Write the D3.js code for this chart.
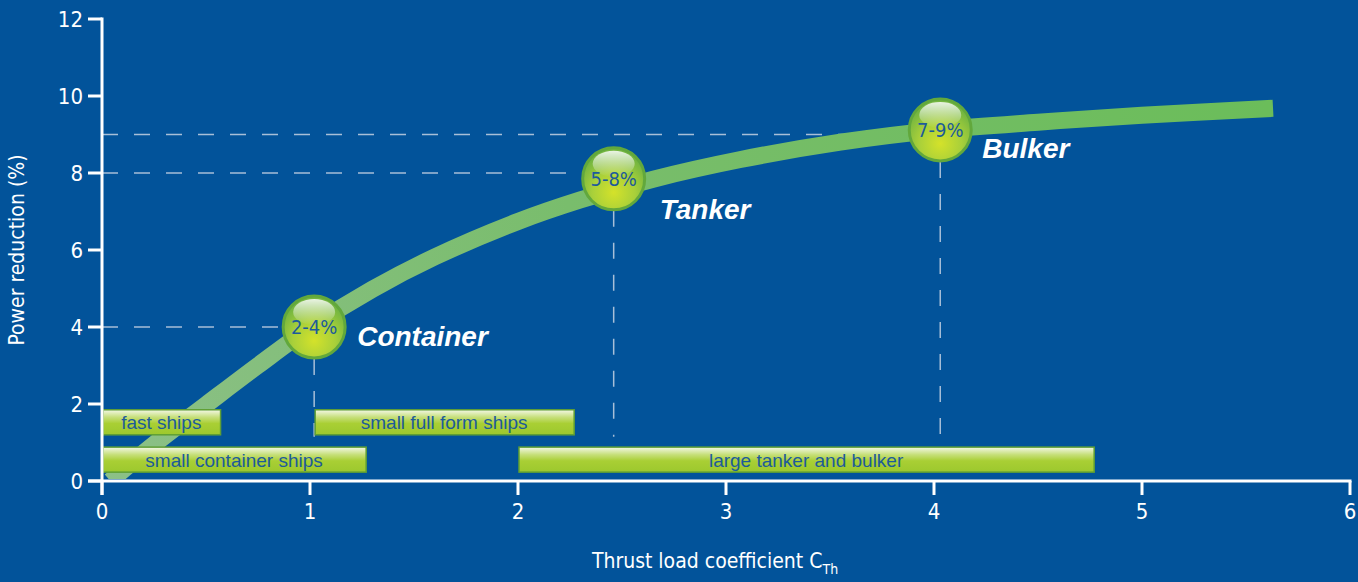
<!DOCTYPE html>
<html>
<head>
<meta charset="utf-8">
<script src="https://cdn.jsdelivr.net/npm/d3@7"></script>
<style>
  html, body { margin: 0; padding: 0; background: #02539a; overflow: hidden; }
  svg { display: block; }
</style>
</head>
<body>
<script>
// curve
const curveX = [0.04, 0.25, 0.5, 0.75, 1.0, 1.3, 1.6, 2.0, 2.3, 2.65, 3.07, 3.55, 4.03, 4.5, 5.0, 5.63]
const curveY = [0.0, 0.95, 1.98, 3.0, 3.98, 4.98, 5.82, 6.74, 7.3, 7.84, 8.35, 8.8, 9.12, 9.32, 9.5, 9.68]

const markerText = ["2-4%", "5-8%", "7-9%"]
const markerX = [1.02, 2.46, 4.03]
const markerY = [4.0, 7.85, 9.12]
const markerGuideY = [4, 8, 9]
const shipTypes = ["Container", "Tanker", "Bulker"]

const barLabels = ["fast ships", "small container ships", "small full form ships", "large tanker and bulker"]
const barStart = [0, 0, 1.02, 2.0]
const barEnd = [0.57, 1.27, 2.27, 4.77]
const barTop = [1.85, 0.88, 1.85, 0.88]
const barBottom = [1.2, 0.23, 1.2, 0.23]

const xTicks = [0, 1, 2, 3, 4, 5, 6]
const yTicks = [0, 2, 4, 6, 8, 10, 12]

const w = 1358
const h = 582
const tickFont = "'DejaVu Sans Condensed', 'Liberation Sans Narrow', sans-serif"
const barFont = "'Liberation Sans', Arial, sans-serif"

const xScale = d3.scaleLinear().domain([0, 6]).range([102, 1350])
const yScale = d3.scaleLinear().domain([0, 12]).range([481, 19])

const svg = d3.select("body")
              .append("svg")
              .attr("width", w)
              .attr("height", h)

svg.append("rect").attr("width", w).attr("height", h).attr("fill", "#02539a")

const defs = svg.append("defs")

defs.append("clipPath")
    .attr("id", "plotClip")
    .append("rect")
    .attr("x", xScale(0)).attr("y", 0)
    .attr("width", w).attr("height", yScale(0) - 2)

const lineGrad = defs.append("linearGradient")
                     .attr("id", "lineGrad")
                     .attr("gradientUnits", "userSpaceOnUse")
                     .attr("x1", xScale(0)).attr("x2", xScale(5.6))
                     .attr("y1", 0).attr("y2", 0)
lineGrad.append("stop").attr("offset", "0%").attr("stop-color", "#8cc087")
lineGrad.append("stop").attr("offset", "40%").attr("stop-color", "#79bd6c")
lineGrad.append("stop").attr("offset", "100%").attr("stop-color", "#6bbd5a")

const ballGrad = defs.append("radialGradient")
                     .attr("id", "ballGrad")
                     .attr("cx", "50%").attr("cy", "72%").attr("r", "62%")
ballGrad.append("stop").attr("offset", "0%").attr("stop-color", "#d4e22a")
ballGrad.append("stop").attr("offset", "55%").attr("stop-color", "#a9d03a")
ballGrad.append("stop").attr("offset", "100%").attr("stop-color", "#74b640")

const shineGrad = defs.append("linearGradient")
                      .attr("id", "shineGrad")
                      .attr("x1", 0).attr("x2", 0).attr("y1", 0).attr("y2", 1)
shineGrad.append("stop").attr("offset", "0%").attr("stop-color", "#ffffff").attr("stop-opacity", 0.85)
shineGrad.append("stop").attr("offset", "100%").attr("stop-color", "#ffffff").attr("stop-opacity", 0)

const barGrad = defs.append("linearGradient")
                    .attr("id", "barGrad")
                    .attr("x1", 0).attr("x2", 0).attr("y1", 0).attr("y2", 1)
barGrad.append("stop").attr("offset", "0%").attr("stop-color", "#f4f8e8")
barGrad.append("stop").attr("offset", "30%").attr("stop-color", "#c6df7a")
barGrad.append("stop").attr("offset", "55%").attr("stop-color", "#a9cf34")
barGrad.append("stop").attr("offset", "100%").attr("stop-color", "#9cc82e")

// dashed guides
const guides = svg.append("g")
                  .attr("stroke", "#a8bfd8")
                  .attr("stroke-width", 1.5)
                  .attr("stroke-dasharray", "16,16")
                  .attr("fill", "none")
markerX.forEach((mx, i) => {
    guides.append("line")
          .attr("x1", xScale(0)).attr("x2", xScale(mx))
          .attr("y1", yScale(markerGuideY[i])).attr("y2", yScale(markerGuideY[i]))
    guides.append("line")
          .attr("x1", xScale(mx)).attr("x2", xScale(mx))
          .attr("y1", yScale(markerY[i])).attr("y2", yScale(1.15))
})

// curve
const pts = curveX.map((d, i) => [d, curveY[i]])
svg.append("path")
   .datum(pts)
   .attr("clip-path", "url(#plotClip)")
   .attr("d", d3.line()
               .x((d) => xScale(d[0]))
               .y((d) => yScale(d[1]))
               .curve(d3.curveCatmullRom.alpha(0.5)))
   .attr("fill", "none")
   .attr("stroke", "url(#lineGrad)")
   .attr("stroke-width", 17)

// bars
const bars = svg.selectAll(".bar")
                .data(barLabels)
                .enter()
                .append("g")
                .attr("class", "bar")
bars.append("rect")
    .attr("x", (d, i) => xScale(barStart[i]) + 1)
    .attr("y", (d, i) => yScale(barTop[i]))
    .attr("width", (d, i) => xScale(barEnd[i]) - xScale(barStart[i]) - 1)
    .attr("height", (d, i) => yScale(barBottom[i]) - yScale(barTop[i]))
    .attr("fill", "url(#barGrad)")
    .attr("stroke", "#5f9f34")
    .attr("stroke-width", 1.5)
bars.append("text")
    .attr("x", (d, i) => (xScale(barStart[i]) + xScale(barEnd[i])) / 2)
    .attr("y", (d, i) => (yScale(barTop[i]) + yScale(barBottom[i])) / 2 + 7)
    .attr("text-anchor", "middle")
    .attr("font-family", barFont)
    .attr("font-size", 19)
    .attr("fill", "#1d5b9a")
    .text((d) => d)

// axes
const axes = svg.append("g").attr("stroke", "#ffffff").attr("stroke-width", 3)
axes.append("line")
    .attr("x1", xScale(0) - 14).attr("x2", xScale(6) + 1.5)
    .attr("y1", yScale(0)).attr("y2", yScale(0))
axes.append("line")
    .attr("x1", xScale(0)).attr("x2", xScale(0))
    .attr("y1", yScale(12) - 1.5).attr("y2", yScale(0) + 14)
axes.selectAll(".xt").data(xTicks).enter().append("line")
    .attr("x1", (d) => xScale(d)).attr("x2", (d) => xScale(d))
    .attr("y1", yScale(0)).attr("y2", yScale(0) + 14)
axes.selectAll(".yt").data(yTicks).enter().append("line")
    .attr("x1", xScale(0) - 14).attr("x2", xScale(0))
    .attr("y1", (d) => yScale(d)).attr("y2", (d) => yScale(d))

svg.selectAll(".xl").data(xTicks).enter().append("text")
   .attr("x", (d) => xScale(d))
   .attr("y", yScale(0) + 38)
   .attr("text-anchor", "middle")
   .attr("font-family", tickFont)
   .attr("font-size", 22)
   .attr("fill", "#ffffff")
   .text((d) => d)
svg.selectAll(".yl").data(yTicks).enter().append("text")
   .attr("x", xScale(0) - 19)
   .attr("y", (d) => yScale(d) + 8)
   .attr("text-anchor", "end")
   .attr("font-family", tickFont)
   .attr("font-size", 22)
   .attr("fill", "#ffffff")
   .text((d) => d)

svg.append("text")
   .attr("transform", "translate(24, 250) rotate(-90)")
   .attr("text-anchor", "middle")
   .attr("font-family", tickFont)
   .attr("font-size", 21)
   .attr("fill", "#ffffff")
   .text("Power reduction (%)")

const xl = svg.append("text")
              .attr("x", 715)
              .attr("y", 568)
              .attr("text-anchor", "middle")
              .attr("font-family", tickFont)
              .attr("font-size", 21)
              .attr("fill", "#ffffff")
xl.append("tspan").text("Thrust load coefficient C")
xl.append("tspan").attr("font-size", 14).attr("dy", 6).text("Th")

// markers
const balls = svg.selectAll(".ball")
                 .data(markerText)
                 .enter()
                 .append("g")
                 .attr("class", "ball")
                 .attr("transform", (d, i) => "translate(" + xScale(markerX[i]) + "," + yScale(markerY[i]) + ")")
balls.append("circle")
     .attr("r", 31)
     .attr("fill", "url(#ballGrad)")
     .attr("stroke", "#62a83c")
     .attr("stroke-width", 3)
balls.append("ellipse")
     .attr("cx", 0).attr("cy", -15)
     .attr("rx", 21).attr("ry", 13)
     .attr("fill", "url(#shineGrad)")
balls.append("text")
     .attr("y", 7)
     .attr("text-anchor", "middle")
     .attr("font-family", tickFont)
     .attr("font-size", 20)
     .attr("fill", "#1d5b9a")
     .text((d) => d)
balls.append("text")
     .attr("x", (d, i) => [43, 46, 42][i])
     .attr("y", (d, i) => [19, 40, 28][i])
     .attr("font-family", barFont)
     .attr("font-weight", "bold")
     .attr("font-style", "italic")
     .attr("font-size", 28)
     .attr("fill", "#ffffff")
     .text((d, i) => shipTypes[i])
</script>
</body>
</html>
